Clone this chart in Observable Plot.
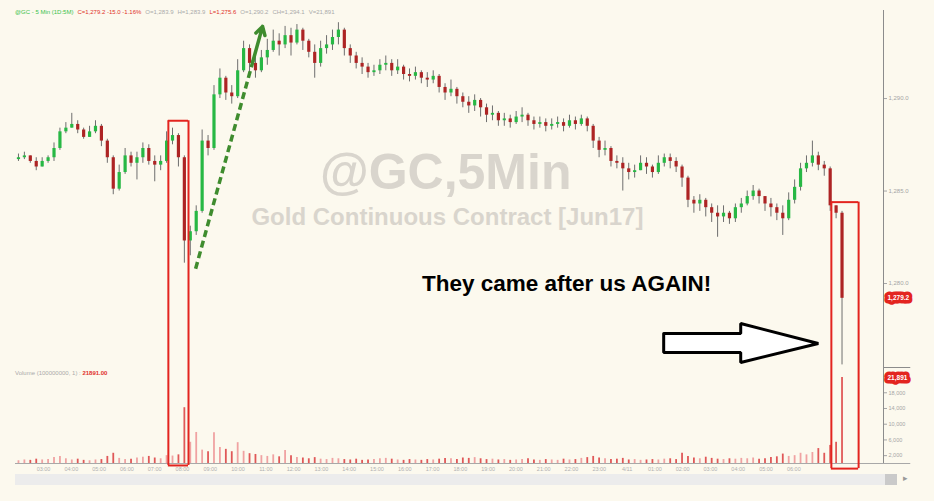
<!DOCTYPE html>
<html><head><meta charset="utf-8">
<script src="https://cdn.jsdelivr.net/npm/d3@7"></script>
<script src="https://cdn.jsdelivr.net/npm/@observablehq/plot@0.6"></script>
<style>
html,body{margin:0;padding:0;background:#fcf9ee;}
#wrap{position:relative;width:934px;height:501px;overflow:hidden;font-family:"Liberation Sans",Arial,sans-serif;}
#price{position:absolute;left:0;top:0;}
#volume{position:absolute;left:0;top:367px;}
#header{position:absolute;left:15px;top:9px;font-size:6px;white-space:nowrap;color:#aaa;}
#header span{margin-right:4px;}
#vlegend{position:absolute;left:15px;top:370px;font-size:6px;white-space:nowrap;color:#aaa;}
#scroll{position:absolute;left:15px;top:474px;width:870px;height:11px;background:#ececec;}
#thumb{position:absolute;left:885px;top:474px;width:12px;height:11px;background:#cacaca;}
#sarrow{position:absolute;left:903px;top:473px;font-size:9px;color:#999;}
</style></head><body>
<div id="wrap">
  <div id="price"></div>
  <div id="volume"></div>
  <div id="header"><span style="color:#39c24a">@GC - 5 Min (1D:5M)</span><span style="color:#e0302a">C=1,279.2 -15.0 -1.16%</span><span>O=1,283.9</span><span>H=1,283.9</span><span style="color:#e0302a">L=1,275.6</span><span>O=1,290.2</span><span>CH=1,294.1</span><span>V=21,891</span></div>
  <div id="vlegend">Volume (100000000, 1) : <b style="color:#e0302a">21891.00</b></div>
  <div id="scroll"></div><div id="thumb"></div><div id="sarrow">&#9656;</div>
</div>
<script>
// ---- data ----
const firstOpen = 1286.7;
const closes = [
1286.8,1286.9,1286.6,1286.3,1286.6,1286.8,1287.3,1288.2,1288.4,1288.6,
1288.3,1287.9,1288.2,1288.5,1287.7,1286.8,1285.1,1286.0,1286.9,1286.5,
1286.8,1287.3,1286.6,1286.4,1286.6,1287.7,1288.0,1286.8,1282.3,1282.8,
1283.9,1287.7,1287.3,1290.2,1291.1,1290.3,1290.1,1291.5,1292.7,1291.9,
1291.5,1292.2,1292.6,1293.1,1292.9,1293.4,1293.0,1293.7,1293.1,1292.5,
1291.9,1292.7,1292.9,1293.3,1293.7,1292.7,1292.3,1291.9,1291.7,1291.4,
1291.5,1291.8,1291.9,1291.5,1291.7,1291.3,1291.2,1291.4,1291.1,1291.0,
1291.2,1290.6,1290.3,1290.5,1290.1,1289.8,1289.6,1289.9,1289.5,1289.1,
1289.2,1288.8,1288.9,1288.7,1289.0,1289.1,1288.8,1288.6,1288.7,1288.5,
1288.6,1288.7,1288.5,1288.8,1288.6,1288.9,1288.5,1287.7,1287.2,1287.3,
1286.6,1286.5,1286.2,1286.0,1286.1,1286.5,1286.3,1286.0,1286.5,1286.8,
1286.6,1286.3,1285.7,1284.5,1284.3,1284.5,1284.1,1283.8,1283.6,1283.8,
1283.5,1284.1,1284.3,1284.7,1285.0,1284.7,1284.3,1284.1,1283.8,1283.5,
1284.5,1285.2,1286.2,1286.5,1286.9,1286.4,1286.2,1284.2,1283.8,1279.2];
const highs = [
1287.0,1287.1,1286.9,1286.8,1286.8,1286.9,1287.6,1288.4,1288.7,1289.2,
1288.8,1288.4,1288.5,1288.8,1288.6,1287.8,1286.9,1286.4,1287.3,1287.1,
1287.1,1287.6,1287.5,1286.9,1286.9,1288.2,1288.4,1288.1,1286.9,1283.1,
1284.2,1288.3,1288.0,1290.7,1291.6,1291.2,1290.7,1292.1,1293.1,1292.9,
1292.5,1292.6,1293.2,1293.7,1293.5,1293.9,1293.8,1294.0,1293.8,1293.2,
1292.9,1293.1,1293.4,1293.7,1294.1,1293.8,1292.9,1292.5,1292.2,1291.9,
1291.8,1292.1,1292.3,1292.1,1292.1,1291.8,1291.6,1291.7,1291.5,1291.4,
1291.5,1291.3,1290.8,1291.0,1290.6,1290.3,1290.1,1290.2,1290.0,1289.7,
1289.6,1289.3,1289.2,1289.1,1289.3,1289.5,1289.2,1289.0,1289.0,1288.9,
1288.9,1289.0,1288.9,1289.1,1289.0,1289.1,1289.0,1288.6,1287.9,1287.7,
1287.4,1286.9,1286.8,1286.5,1286.4,1286.9,1286.8,1286.4,1286.9,1287.0,
1287.0,1286.8,1286.4,1285.8,1284.7,1284.8,1284.6,1284.3,1284.2,1284.2,
1283.9,1284.3,1284.6,1285.0,1285.3,1285.1,1284.7,1284.6,1284.3,1284.2,
1284.9,1285.6,1286.5,1286.9,1287.7,1287.1,1286.6,1286.3,1284.2,1283.9];
const lows = [
1286.6,1286.7,1286.5,1286.1,1286.3,1286.5,1286.6,1287.2,1288.1,1288.4,
1288.1,1287.8,1287.9,1288.1,1287.4,1286.5,1284.8,1285.0,1285.9,1286.3,
1285.6,1286.5,1286.4,1285.5,1286.1,1286.5,1287.5,1286.3,1281.1,1281.5,
1282.6,1283.8,1286.9,1287.2,1290.0,1289.9,1289.7,1290.0,1291.4,1291.4,
1291.1,1291.4,1291.8,1292.5,1292.3,1292.7,1292.3,1292.9,1292.6,1292.2,
1291.1,1291.7,1292.4,1292.6,1292.9,1292.3,1291.9,1291.6,1291.3,1291.1,
1291.2,1291.3,1291.5,1291.2,1291.3,1291.0,1290.9,1291.0,1290.8,1290.6,
1290.8,1290.3,1289.9,1290.1,1289.7,1289.5,1289.2,1289.3,1289.0,1288.7,
1288.8,1288.5,1288.5,1288.4,1288.6,1288.7,1288.5,1288.3,1288.4,1288.2,
1288.3,1288.4,1288.2,1288.4,1288.3,1288.5,1288.2,1287.3,1286.8,1286.9,
1286.3,1286.2,1285.0,1285.6,1285.7,1286.1,1285.9,1285.7,1285.9,1286.3,
1286.2,1286.0,1285.2,1284.1,1283.8,1283.9,1283.6,1283.3,1282.5,1283.3,
1283.2,1283.3,1283.8,1284.2,1284.5,1284.3,1283.9,1283.6,1283.4,1282.6,
1283.4,1284.3,1285.0,1286.0,1286.3,1286.1,1285.8,1283.9,1283.5,1275.6];
const volumes = [
700,900,800,1100,900,1000,1500,1800,1200,900,
1100,800,700,900,1000,1800,2600,1300,1000,1100,
1400,1600,1800,1400,1200,2000,1900,2200,14200,5400,
7900,3400,3000,7800,4100,3600,3000,5300,3100,2500,
2300,2000,1800,2200,1700,3300,2000,1500,1400,1200,
1500,1100,1000,1300,1200,1000,900,1100,800,900,
1000,1200,1300,1100,900,800,1000,900,800,1000,
900,1100,1300,1200,1000,1400,1300,1500,1200,1000,
1100,900,1000,800,900,1000,1200,900,800,1000,
900,800,1100,900,1000,1300,1500,1800,1400,1200,
1000,1100,1300,900,1000,800,900,1000,900,1100,
1200,1000,2600,1800,1400,1200,1600,1300,1100,1000,
1200,1100,1300,1200,1400,1100,1200,1500,1700,2400,
1800,2000,2600,2200,2800,3800,2600,4600,5400,21891];
const timeLabels = ["03:00","04:00","05:00","06:00","07:00","08:00","09:00","10:00","11:00","12:00",
"13:00","14:00","15:00","16:00","17:00","18:00","19:00","20:00","21:00","22:00","23:00","4/11",
"01:00","02:00","03:00","04:00","05:00","06:00"];
const priceTicks = [1280, 1285, 1290];
const volumeTicks = [2000, 6000, 10000, 14000, 18000];

// annotations (in data units: bar index / price / volume)
const watermarkTexts = ["@GC,5Min", "Gold Continuous Contract [Jun17]"];
const watermarkPos = [{i: 72.1, p: 1286.0, size: 50}, {i: 72.4, p: 1283.6, size: 24}];
const calloutText = "They came after us AGAIN!";
const calloutPos = {i: 92.5, p: 1280.0};
const boxes = [{i1: 25.3, i2: 28.7, top: 1288.8, vbottom: -500}, {i1: 137.2, i2: 141.8, top: 1284.4, vbottom: -1300}];
const trend = {i1: 29.9, p1: 1280.8, i2: 41.2, p2: 1293.9};
const bigArrow = [[108.9,1277.3],[121.9,1277.3],[121.9,1277.84],[135.0,1276.76],[121.9,1275.73],[121.9,1276.27],[108.9,1276.27],[108.9,1277.3]];

// ---- build ----
const bars = closes.map((c, i) => {
  const o = i === 0 ? firstOpen : closes[i - 1];
  return {i, o, c, h: Math.max(highs[i], o, c), l: Math.min(lows[i], o, c), v: volumes[i], up: c >= o};
});
const UP = "#27b844", DOWN = "#ad2424", RED = "#e3241f";
const X_DOMAIN = [-0.5, 146];
const AXIS_X = 146, EDGE_X = 150.6;
const font = "'Liberation Sans', Arial, sans-serif";
const fmtP = d3.format(",.1f");
const last = bars[bars.length - 1];

const watermarks = watermarkTexts.map((t, k) => ({t, ...watermarkPos[k]}));
const boxRules = boxes.flatMap(b => [{x: b.i1, top: b.top, vb: b.vbottom}, {x: b.i2, top: b.top, vb: b.vbottom}]);
const f = 0.86;
const headStart = {i: trend.i1 + (trend.i2 - trend.i1) * f, p: trend.p1 + (trend.p2 - trend.p1) * f};

const priceChart = Plot.plot({
  width: 934, height: 367,
  marginLeft: 15, marginRight: 51, marginTop: 10, marginBottom: 0,
  style: {background: "transparent", fontFamily: font, overflow: "visible"},
  x: {domain: X_DOMAIN, axis: null},
  y: {domain: [1275.46, 1294.76], axis: null},
  marks: [
    Plot.text(watermarks, {x: "i", y: "p", text: "t", fontSize: "size", fontWeight: "bold", fill: "#d9d5cd", fontFamily: font}),
    Plot.ruleX(bars, {x: "i", y1: "l", y2: "h", stroke: "#6e6e6e", strokeWidth: 1}),
    Plot.ruleX(bars, {x: "i", y1: "o", y2: d => d.c === d.o ? d.c + 0.04 : d.c, stroke: d => d.up ? UP : DOWN, strokeWidth: 3.2}),
    Plot.ruleX([AXIS_X], {stroke: "#8c8c8c", strokeWidth: 1}),
    Plot.axisY(priceTicks, {anchor: "right", tickSize: 3, tickPadding: 2, fontSize: 6, color: "#a5a5a5", tickFormat: fmtP}),
    Plot.text([last], {x: () => AXIS_X, y: "c", text: d => fmtP(d.c), textAnchor: "start", dx: 4, fill: "white", stroke: RED, strokeWidth: 7, fontSize: 6.5, fontWeight: "bold"}),
    // highlight boxes (upper part)
    Plot.ruleX(boxRules, {x: "x", y1: "top", y2: 1275.46, stroke: RED, strokeWidth: 2}),
    Plot.ruleY(boxes, {y: "top", x1: "i1", x2: "i2", stroke: RED, strokeWidth: 2}),
    // green dashed trend
    Plot.link([trend], {x1: "i1", y1: "p1", x2: () => headStart.i, y2: () => headStart.p, stroke: "#3f8c2e", strokeWidth: 3.5, strokeDasharray: "7,4"}),
    Plot.arrow([trend], {x1: () => headStart.i, y1: () => headStart.p, x2: "i2", y2: "p2", stroke: "#3f8c2e", strokeWidth: 3.5, headLength: 4}),
    // callout
    Plot.text([calloutPos], {x: "i", y: "p", text: () => calloutText, fontSize: 22.5, fontWeight: "bold", fill: "#000", fontFamily: font}),
    Plot.line(bigArrow, {x: d => d[0], y: d => d[1], stroke: "#000", strokeWidth: 3, fill: "white", strokeLinejoin: "miter"})
  ]
});
document.getElementById("price").append(priceChart);

const timeTicks = timeLabels.map((label, k) => ({i: 4.23 + 4.69 * k, label}));
const volChart = Plot.plot({
  width: 934, height: 134,
  marginLeft: 15, marginRight: 51, marginTop: 0, marginBottom: 38,
  style: {background: "transparent", fontFamily: font, overflow: "visible"},
  x: {domain: X_DOMAIN, axis: null},
  y: {domain: [0, 24432], axis: null},
  marks: [
    Plot.ruleX(bars, {x: "i", y: "v", stroke: d => d.up ? "#f0a2a2" : "#e05858", strokeWidth: 1.8}),
    Plot.ruleY([0], {x1: X_DOMAIN[0], x2: EDGE_X, stroke: "#a8a8a8"}),
    Plot.ruleY([24432], {x1: AXIS_X, x2: EDGE_X, stroke: "#8c8c8c"}),
    Plot.ruleX([AXIS_X], {stroke: "#8c8c8c", strokeWidth: 1}),
    Plot.axisY(volumeTicks, {anchor: "right", tickSize: 3, tickPadding: 2, fontSize: 5.5, color: "#a5a5a5", tickFormat: d3.format(",")}),
    Plot.text([last], {x: () => AXIS_X, y: "v", text: d => d3.format(",")(d.v), textAnchor: "start", dx: 4, fill: "white", stroke: RED, strokeWidth: 7, fontSize: 6.5, fontWeight: "bold"}),
    Plot.text(timeTicks, {x: "i", text: "label", frameAnchor: "bottom", dy: 7, fontSize: 5.5, fill: "#b0b0b0"}),
    Plot.ruleX(boxRules, {x: "x", y1: 24432, y2: "vb", stroke: RED, strokeWidth: 2}),
    Plot.ruleY(boxes, {y: "vbottom", x1: "i1", x2: "i2", stroke: RED, strokeWidth: 2})
  ]
});
document.getElementById("volume").append(volChart);
</script>
</body></html>
